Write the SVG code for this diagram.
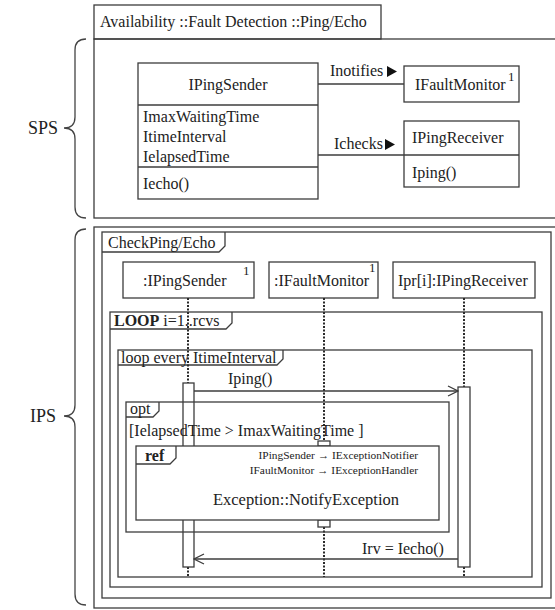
<svg xmlns="http://www.w3.org/2000/svg" width="555" height="610" viewBox="0 0 555 610">
  <style>
    text { font-family: "Liberation Serif", "Times New Roman", serif; fill: #222; }
    .t16 { font-size: 16px; }
    .t11 { font-size: 11.4px; }
    .sup { font-size: 13px; }
    .b { font-weight: bold; }
    .frame { fill: none; stroke: #3c3c3c; stroke-width: 1.3; }
    .box { fill: #fff; stroke: #3c3c3c; stroke-width: 1.3; }
    .line { fill: none; stroke: #3c3c3c; stroke-width: 1.3; }
    .life { fill: none; stroke: #2a2a2a; stroke-width: 2; stroke-dasharray: 2 1.5; }
    .act { fill: none; stroke: #3c3c3c; stroke-width: 1.3; }
    .brace { fill: none; stroke: #444; stroke-width: 1.3; }
    .lbl { font-size: 18px; }
  </style>
  <defs>
    <marker id="open" markerWidth="12" markerHeight="12" refX="11" refY="6" orient="auto" markerUnits="userSpaceOnUse">
      <path d="M1,1 L11,6 L1,11" fill="none" stroke="#3c3c3c" stroke-width="1.3"/>
    </marker>
  </defs>
  <rect width="555" height="610" fill="#fff"/>

  <!-- side braces -->
  <g id="sps-brace">
    <path class="brace" d="M86,39 Q75,39 75,50 L75,117 Q75,128 64,128 Q75,128 75,139 L75,207 Q75,218 86,218"/>
    <text class="lbl" x="28" y="134">SPS</text>
  </g>
  <g id="ips-brace">
    <path class="brace" d="M86,229 Q75,229 75,240 L75,405 Q75,416 64,416 Q75,416 75,427 L75,594 Q75,605 86,605"/>
    <text class="lbl" x="30" y="422">IPS</text>
  </g>

  <!-- structural package -->
  <g id="sps-frame">
    <rect class="frame" x="94" y="5" width="287" height="34"/>
    <rect class="frame" x="94" y="39" width="466" height="179"/>
    <text class="t16" x="100" y="27">Availability ::Fault Detection ::Ping/Echo</text>
  </g>

  <g id="class-pingsender">
    <rect class="box" x="138" y="63" width="180" height="136"/>
    <line class="line" x1="138" y1="105" x2="318" y2="105"/>
    <line class="line" x1="138" y1="167" x2="318" y2="167"/>
    <text class="t16" x="228" y="90" text-anchor="middle">IPingSender</text>
    <text class="t16" x="143" y="122">ImaxWaitingTime</text>
    <text class="t16" x="143" y="142">ItimeInterval</text>
    <text class="t16" x="143" y="162">IelapsedTime</text>
    <text class="t16" x="143" y="189">Iecho()</text>
  </g>

  <g id="class-faultmonitor">
    <rect class="box" x="404" y="66" width="115" height="36"/>
    <text class="t16" x="415" y="90">IFaultMonitor</text>
    <text class="sup" x="508" y="81">1</text>
  </g>

  <g id="class-pingreceiver">
    <rect class="box" x="404" y="121" width="115" height="66"/>
    <line class="line" x1="404" y1="155" x2="519" y2="155"/>
    <text class="t16" x="412" y="143">IPingReceiver</text>
    <text class="t16" x="412" y="178">Iping()</text>
  </g>

  <g id="associations">
    <line class="line" x1="318" y1="84" x2="404" y2="84"/>
    <text class="t16" x="330" y="76">Inotifies</text>
    <polygon points="387,66 397,71.5 387,77" fill="#111"/>
    <line class="line" x1="318" y1="155" x2="404" y2="155"/>
    <text class="t16" x="334" y="149">Ichecks</text>
    <polygon points="385,139 395,144.5 385,150" fill="#111"/>
  </g>

  <!-- interaction package -->
  <g id="ips-frame">
    <rect class="frame" x="94" y="227" width="466" height="381"/>
  </g>

  <g id="frame-checkping">
    <rect class="frame" x="102" y="232" width="449" height="366"/>
    <path class="frame" d="M102,252 H219 L225,246 V232"/>
    <text class="t16" x="108" y="248">CheckPing/Echo</text>
  </g>

  <g id="head-pingsender">
    <rect class="box" x="123" y="262" width="131" height="36"/>
    <text class="t16" x="143" y="286">:IPingSender</text>
    <text class="sup" x="243" y="275">1</text>
  </g>
  <g id="head-faultmonitor">
    <rect class="box" x="269" y="262" width="109" height="36"/>
    <text class="t16" x="274" y="286">:IFaultMonitor</text>
    <text class="sup" x="369" y="272">1</text>
  </g>
  <g id="head-pingreceiver">
    <rect class="box" x="393" y="262" width="142" height="36"/>
    <text class="t16" x="398" y="286">Ipr[i]:IPingReceiver</text>
  </g>

  <g id="frame-loop-rcvs">
    <rect class="frame" x="110" y="312" width="432" height="275"/>
    <path class="frame" d="M110,329 H226 L232,323 V312"/>
    <text class="t16" x="114" y="326"><tspan class="b">LOOP</tspan> i=1..rcvs</text>
  </g>

  <g id="frame-loop-interval">
    <rect class="frame" x="118" y="350" width="414" height="227"/>
    <path class="frame" d="M118,365 H277 L283,359 V350"/>
    <text class="t16" x="121" y="363">loop every  ItimeInterval</text>
  </g>

  <g id="lifelines">
    <line class="life" x1="188" y1="298" x2="188" y2="383"/>
    <line class="life" x1="188" y1="567" x2="188" y2="577"/>
    <line class="life" x1="324" y1="298" x2="324" y2="441"/>
    <line class="life" x1="324" y1="527" x2="324" y2="577"/>
    <line class="life" x1="464" y1="298" x2="464" y2="387"/>
    <line class="life" x1="464" y1="567" x2="464" y2="577"/>
  </g>

  <g id="activation-sender">
    <rect class="act" x="183" y="383" width="11" height="184"/>
  </g>
  <g id="activation-receiver">
    <rect class="act" x="458" y="387" width="12" height="180"/>
  </g>

  <g id="frame-opt">
    <rect class="frame" x="126" y="402" width="323" height="130"/>
    <path class="frame" d="M126,417 H153 L159,411 V402"/>
    <text class="t16" x="130" y="414">opt</text>
    <text class="t16" x="129" y="436">[IelapsedTime &gt; ImaxWaitingTime ]</text>
  </g>

  <g id="activation-monitor">
    <rect class="box" x="318" y="441" width="12" height="5"/>
    <rect class="box" x="318" y="520" width="12" height="7"/>
  </g>

  <g id="ref-notify">
    <rect class="box" x="136" y="446" width="303" height="74"/>
    <path class="frame" d="M136,464 H170 L176,458 V446"/>
    <text class="t16 b" x="145" y="461">ref</text>
    <text class="t11" x="418" y="459" text-anchor="end">IPingSender → IExceptionNotifier</text>
    <text class="t11" x="418" y="474" text-anchor="end">IFaultMonitor → IExceptionHandler</text>
    <text x="306" y="505" text-anchor="middle" style="font-size:16.5px">Exception::NotifyException</text>
  </g>

  <g id="messages">
    <line class="line" x1="194" y1="391" x2="458" y2="391" marker-end="url(#open)"/>
    <text class="t16" x="228" y="384">Iping()</text>
    <line class="line" x1="458" y1="559" x2="194" y2="559" marker-end="url(#open)"/>
    <text class="t16" x="362" y="554">Irv = Iecho()</text>
  </g>
</svg>
